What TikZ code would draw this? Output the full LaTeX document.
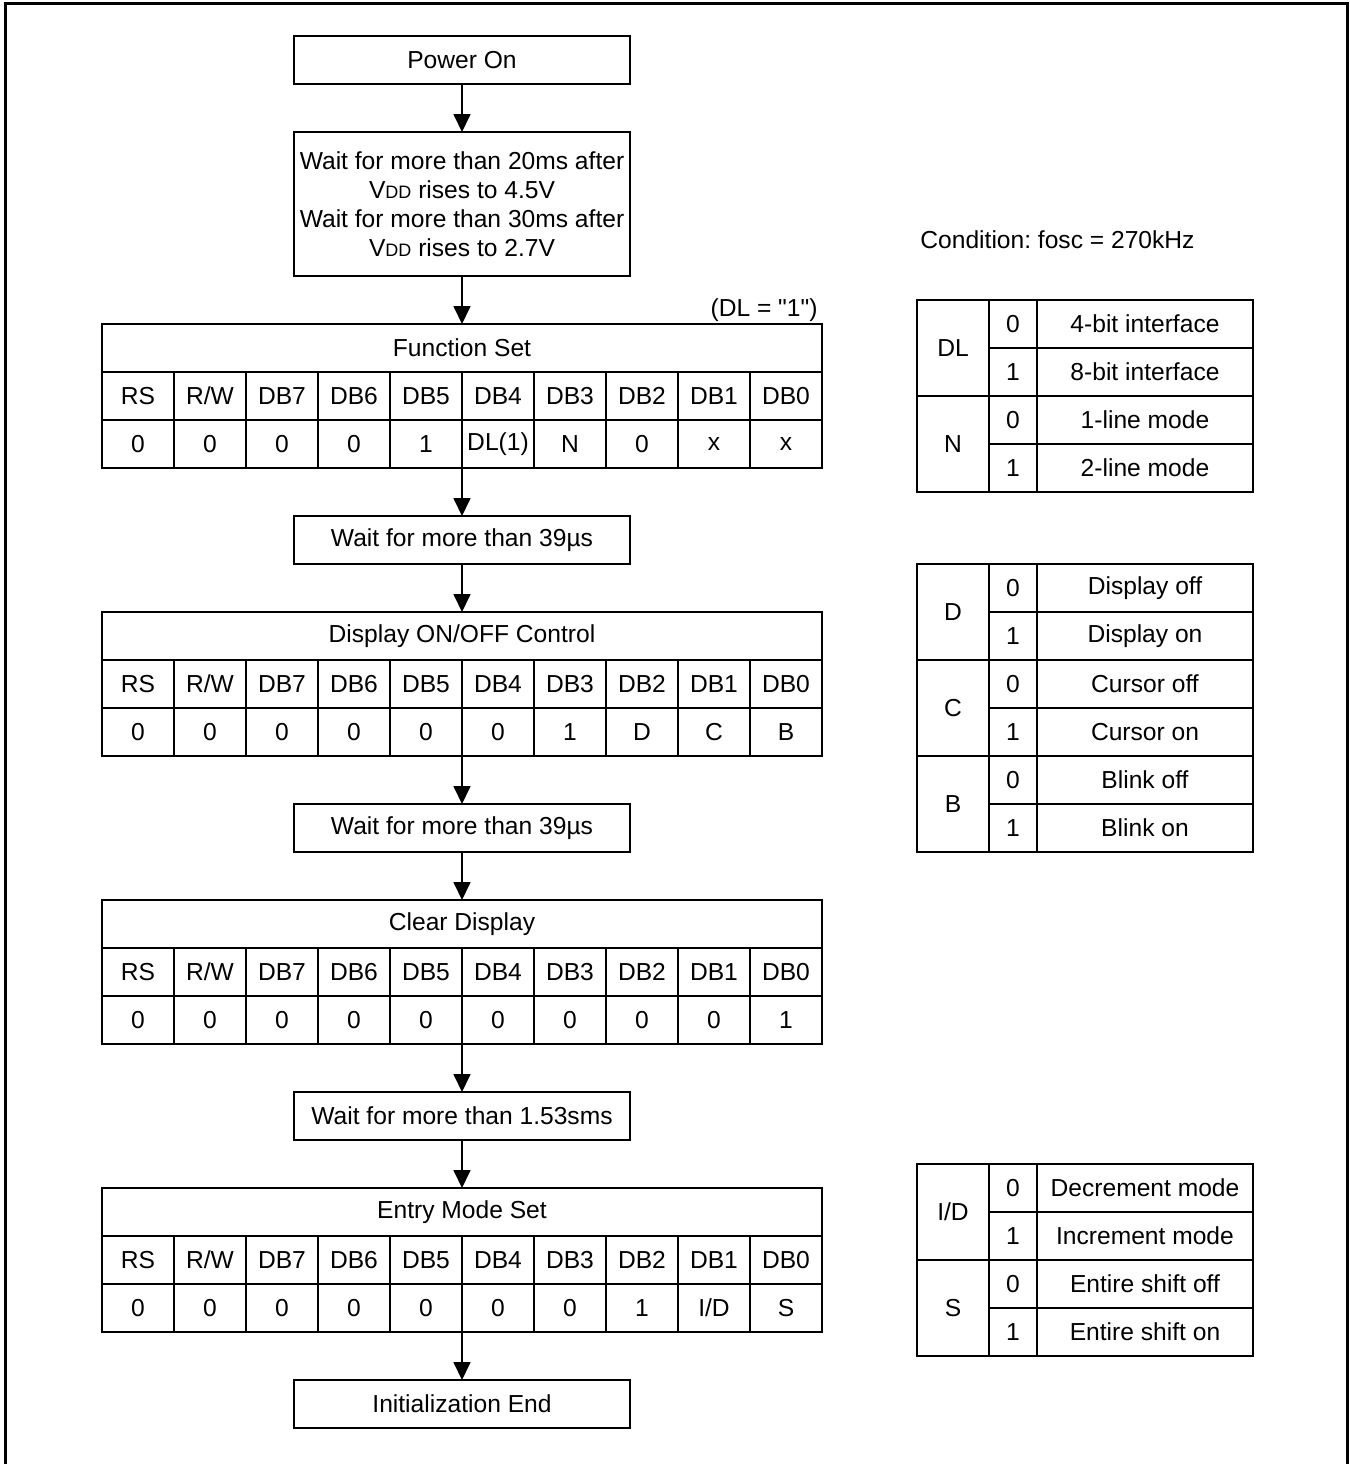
\documentclass[tikz,border=0pt]{standalone}
\usepackage{fontspec}
\setmainfont{Liberation Sans}
\usetikzlibrary{arrows.meta,positioning}
\newcommand{\vdd}{V{\fontsize{9}{9}\selectfont DD}}
\tikzset{
  plain/.style={
  inner sep=0pt,
  font=\fontsize{12.3}{14.5}\selectfont,
  },
  basic/.style={
  plain,
  draw,
  line width=0.85pt,
  outer sep=0pt,
  },
  stepbox/.style={basic, minimum width=168pt, minimum height=24pt},
  waitbox/.style={basic, minimum width=168pt, minimum height=72pt, align=center},
  titlecell/.style={basic, minimum width=360pt, minimum height=24pt},
  cell/.style={basic, minimum width=36pt, minimum height=24pt, anchor=north west},
  keycell/.style={basic, minimum width=36pt, minimum height=48pt, anchor=north west},
  bitcell/.style={basic, minimum width=24pt, minimum height=24pt, anchor=north west},
  desccell/.style={basic, minimum width=108pt, minimum height=24pt, anchor=north west},
  flow/.style={-{Triangle[length=9pt,width=8.5pt]}, line width=0.85pt},
}

\begin{document}
\frenchspacing
\begin{tikzpicture}[x=0.5pt, y=-0.5pt, node distance=24pt]

\useasboundingbox (0,0) rectangle (1350,1464);
\draw[line width=1.5pt] (5,1464) -- (5,3) -- (1347,3) -- (1347,1464);

% The flow column
\node[stepbox] (p0) at (462,60) {Power On};
\node[waitbox, below=of p0] (w0) {Wait for more than 20ms after\\ \vdd{} rises to 4.5V\\ Wait for more than 30ms after\\ \vdd{} rises to 2.7V};
\node[titlecell, below=of w0] (t1) {Function Set};
\node[stepbox, below=72pt of t1] (w1) {Wait for more than 39µs};
\node[titlecell, below=of w1] (t2) {Display ON/OFF Control};
\node[stepbox, below=72pt of t2] (w2) {Wait for more than 39µs};
\node[titlecell, below=of w2] (t3) {Clear Display};
\node[stepbox, below=72pt of t3] (w3) {Wait for more than 1.53sms};
\node[titlecell, below=of w3] (t4) {Entry Mode Set};
\node[stepbox, below=72pt of t4] (w4) {Initialization End};

\node[plain, anchor=south east] (dlnote) at ([xshift=-2pt, yshift=1pt]t1.north east) {(DL = \textquotedbl 1\textquotedbl)};

% table rows
\foreach \lab [count=\i] in {RS,R/W,DB7,DB6,DB5,DB4,DB3,DB2,DB1,DB0}
  \node[cell] (t1h\i) at ([xshift={(\i-1)*36pt}]t1.south west) {\lab};
\foreach \lab [count=\i] in {0,0,0,0,1,DL(1),N,0,x,x}
  \node[cell] (t1v\i) at (t1h\i.south west) {\lab};

\foreach \lab [count=\i] in {RS,R/W,DB7,DB6,DB5,DB4,DB3,DB2,DB1,DB0}
  \node[cell] (t2h\i) at ([xshift={(\i-1)*36pt}]t2.south west) {\lab};
\foreach \lab [count=\i] in {0,0,0,0,0,0,1,D,C,B}
  \node[cell] (t2v\i) at (t2h\i.south west) {\lab};

\foreach \lab [count=\i] in {RS,R/W,DB7,DB6,DB5,DB4,DB3,DB2,DB1,DB0}
  \node[cell] (t3h\i) at ([xshift={(\i-1)*36pt}]t3.south west) {\lab};
\foreach \lab [count=\i] in {0,0,0,0,0,0,0,0,0,1}
  \node[cell] (t3v\i) at (t3h\i.south west) {\lab};

\foreach \lab [count=\i] in {RS,R/W,DB7,DB6,DB5,DB4,DB3,DB2,DB1,DB0}
  \node[cell] (t4h\i) at ([xshift={(\i-1)*36pt}]t4.south west) {\lab};
\foreach \lab [count=\i] in {0,0,0,0,0,0,0,1,I/D,S}
  \node[cell] (t4v\i) at (t4h\i.south west) {\lab};

% arrows
\draw[flow] (p0) -- (w0);
\draw[flow] (w0) -- (t1);
\draw[flow] (t1v5.south east) -- (w1);
\draw[flow] (w1) -- (t2);
\draw[flow] (t2v5.south east) -- (w2);
\draw[flow] (w2) -- (t3);
\draw[flow] (t3v5.south east) -- (w3);
\draw[flow] (w3) -- (t4);
\draw[flow] (t4v5.south east) -- (w4);

% legend tables
\node[plain, anchor=west] (cond) at (920,240) {Condition: fosc = 270kHz};

\coordinate (l1) at (917,300);
\coordinate (l2) at (917,564);
\coordinate (l3) at (917,1164);

\foreach \k/\da/\db [count=\i] in {DL/4-bit interface/8-bit interface, N/1-line mode/2-line mode} {
  \node[keycell] (ka\i) at ([yshift={-(\i-1)*48pt}]l1) {\k};
  \node[bitcell] (kaz\i) at (ka\i.north east) {0};
  \node[desccell] (kazd\i) at (kaz\i.north east) {\da};
  \node[bitcell] (kao\i) at (kaz\i.south west) {1};
  \node[desccell] (kaod\i) at (kao\i.north east) {\db};
}

\foreach \k/\da/\db [count=\i] in {D/Display off/Display on, C/Cursor off/Cursor on, B/Blink off/Blink on} {
  \node[keycell] (kb\i) at ([yshift={-(\i-1)*48pt}]l2) {\k};
  \node[bitcell] (kbz\i) at (kb\i.north east) {0};
  \node[desccell] (kbzd\i) at (kbz\i.north east) {\da};
  \node[bitcell] (kbo\i) at (kbz\i.south west) {1};
  \node[desccell] (kbod\i) at (kbo\i.north east) {\db};
}

\foreach \k/\da/\db [count=\i] in {{I/D}/Decrement mode/Increment mode, S/Entire shift off/Entire shift on} {
  \node[keycell] (kc\i) at ([yshift={-(\i-1)*48pt}]l3) {\k};
  \node[bitcell] (kcz\i) at (kc\i.north east) {0};
  \node[desccell] (kczd\i) at (kcz\i.north east) {\da};
  \node[bitcell] (kco\i) at (kcz\i.south west) {1};
  \node[desccell] (kcod\i) at (kco\i.north east) {\db};
}

\end{tikzpicture}
\end{document}
